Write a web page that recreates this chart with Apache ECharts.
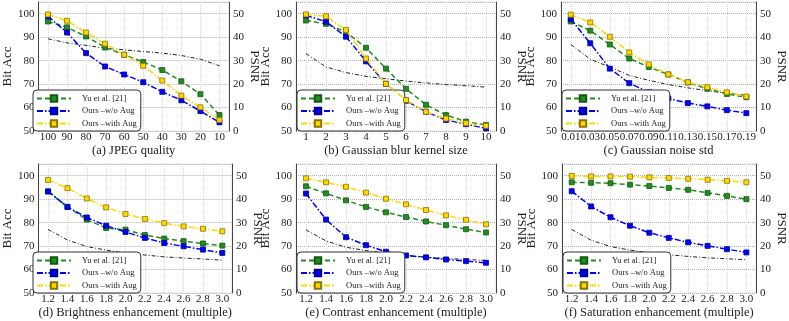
<!DOCTYPE html>
<html>
<head>
<meta charset="utf-8">
<script src="https://cdn.jsdelivr.net/npm/echarts@6/dist/echarts.min.js"></script>
<style>
  html, body { margin: 0; padding: 0; background: #fff; }
  #chart { width: 789px; height: 321px; }
</style>
</head>
<body>
<div id="chart"></div>
<script>
// x categories
const xJpeg = ['100', '90', '80', '70', '60', '50', '40', '30', '20', '10']
const xBlur = ['1', '2', '3', '4', '5', '6', '7', '8', '9', '10']
const xNoise = ['0.01', '0.03', '0.05', '0.07', '0.09', '0.11', '0.13', '0.15', '0.17', '0.19']
const xEnh = ['1.2', '1.4', '1.6', '1.8', '2.0', '2.2', '2.4', '2.6', '2.8', '3.0']

// (a) JPEG
const jpegYu = [96.7, 94.2, 90.3, 85.6, 82.5, 79.4, 76.0, 71.2, 65.7, 56.8]
const jpegNoAug = [98.9, 92.0, 83.2, 77.5, 74.1, 70.8, 66.7, 63.1, 58.5, 53.7]
const jpegAug = [99.7, 97.0, 92.0, 87.2, 82.5, 77.8, 71.5, 65.1, 60.1, 54.7]
const jpegPsnr = [39.3, 37.6, 36.5, 35.3, 34.6, 33.9, 33.2, 32.2, 30.6, 27.8]

// (b) Gaussian blur
const blurYu = [97.1, 95.7, 92.2, 85.5, 76.6, 68.0, 61.2, 56.8, 54.0, 52.6]
const blurNoAug = [99.3, 96.6, 90.2, 79.7, 70.1, 62.9, 58.2, 54.7, 52.9, 51.1]
const blurAug = [99.7, 98.9, 93.1, 80.9, 70.1, 63.2, 58.2, 55.3, 53.3, 52.2]
const blurPsnr = [33.0, 27.3, 24.9, 23.3, 22.3, 21.3, 20.5, 19.8, 19.3, 18.7]

// (c) Gaussian noise
const noiseYu = [96.7, 92.8, 86.9, 80.9, 77.3, 74.1, 70.7, 68.0, 65.8, 64.4]
const noiseNoAug = [97.7, 87.4, 76.6, 70.4, 66.5, 63.9, 61.9, 60.5, 58.9, 57.6]
const noiseAug = [99.6, 96.3, 90.2, 83.5, 78.4, 74.1, 70.8, 68.7, 66.5, 64.7]
const noisePsnr = [36.9, 30.6, 27.3, 23.7, 21.6, 19.8, 18.4, 17.2, 16.1, 15.2]

// (d) Brightness
const brightYu = [93.3, 86.7, 81.3, 77.7, 77.0, 74.7, 73.2, 72.1, 71.1, 70.2]
const brightNoAug = [93.3, 86.7, 82.2, 78.7, 76.0, 73.5, 71.3, 69.9, 68.5, 67.1]
const brightAug = [98.2, 94.7, 90.3, 86.5, 83.7, 81.6, 79.8, 78.4, 77.4, 76.3]
const brightPsnr = [27.1, 22.6, 19.8, 18.3, 17.0, 16.2, 15.4, 14.9, 14.5, 14.0]

// (e) Contrast
const contrastYu = [95.5, 92.5, 89.5, 86.7, 84.4, 82.4, 80.5, 78.9, 77.2, 75.8]
const contrastNoAug = [92.4, 81.3, 73.8, 70.4, 67.6, 66.0, 65.2, 64.3, 63.6, 62.9]
const contrastAug = [98.9, 97.2, 95.3, 92.8, 90.2, 87.8, 85.4, 83.1, 81.2, 79.3]
const contrastPsnr = [26.9, 22.2, 19.5, 18.1, 17.0, 16.0, 15.3, 14.7, 14.3, 13.9]

// (f) Saturation
const satYu = [97.2, 97.0, 96.8, 96.2, 95.6, 94.8, 94.0, 92.7, 91.4, 90.0]
const satNoAug = [93.4, 86.9, 82.3, 78.7, 75.7, 73.5, 71.6, 70.1, 68.7, 67.3]
const satAug = [99.9, 99.7, 99.7, 99.6, 99.3, 99.0, 98.7, 98.3, 97.8, 97.2]
const satPsnr = [27.1, 22.5, 19.8, 18.3, 17.1, 16.3, 15.6, 15.0, 14.6, 14.2]

const names = ['Yu et al. [21]', 'Ours –w/o Aug', 'Ours –with Aug']
const font = 'Liberation Serif'

// 各子图的位置
const panels = [
  { x: xJpeg, title: '(a) JPEG quality', d: [jpegYu, jpegNoAug, jpegAug, jpegPsnr], left: 32, top: 2, width: 197 },
  { x: xBlur, title: '(b) Gaussian blur kernel size', d: [blurYu, blurNoAug, blurAug, blurPsnr], left: 296, top: 2, width: 200 },
  { x: xNoise, title: '(c) Gaussian noise std', d: [noiseYu, noiseNoAug, noiseAug, noisePsnr], left: 561, top: 2, width: 198 },
  { x: xEnh, title: '(d) Brightness enhancement (multiple)', d: [brightYu, brightNoAug, brightAug, brightPsnr], left: 32, top: 164, width: 200 },
  { x: xEnh, title: '(e) Contrast enhancement (multiple)', d: [contrastYu, contrastNoAug, contrastAug, contrastPsnr], left: 296, top: 164, width: 200 },
  { x: xEnh, title: '(f) Saturation enhancement (multiple)', d: [satYu, satNoAug, satAug, satPsnr], left: 562, top: 164, width: 200 }
]
const plotH = 129

const styles = [
  { color: '#228b22', border: '#125c12', dash: [5, 3] },
  { color: '#0000ff', border: '#00008b', dash: [6, 2, 1.5, 2] },
  { color: '#ffd700', border: '#8a7300', dash: [6, 2, 1.5, 2] }
]

const grid = [], xAxis = [], yAxis = [], series = [], legend = []

panels.forEach((p, i) => {
  grid.push({
    left: p.left, top: p.top, width: p.width, height: plotH,
    show: true, borderColor: '#e2e2e2', borderWidth: 1, backgroundColor: 'transparent'
  })
  xAxis.push({
    type: 'category', gridIndex: i, data: p.x, boundaryGap: true,
    name: p.title, nameLocation: 'middle', nameGap: 9,
    nameTextStyle: { fontFamily: font, fontSize: 12.5, color: '#222' },
    axisLine: { show: false },
    axisTick: { show: false, alignWithLabel: true },
    axisLabel: { interval: 0, fontFamily: font, fontSize: 11, color: '#222', margin: 1, hideOverlap: false },
    splitLine: { show: true, alignWithLabel: true, interval: 0, lineStyle: { color: '#d8d8d8', type: 'dotted', width: 1 } }
  })
  yAxis.push({
    type: 'value', gridIndex: i, position: 'left', min: 50, max: 105, interval: 10,
    name: 'Bit Acc', nameLocation: 'middle', nameGap: 18,
    nameTextStyle: { fontFamily: font, fontSize: 13, color: '#222' },
    axisLine: { show: true, lineStyle: { color: '#444', width: 1 } },
    axisTick: { show: false },
    axisLabel: { showMaxLabel: false, fontFamily: font, fontSize: 11, color: '#222', margin: 4 },
    splitLine: { show: true, lineStyle: { color: '#b0b0b0', type: 'dotted', width: 1 } }
  })
  yAxis.push({
    type: 'value', gridIndex: i, position: 'right', min: 0, max: 55, interval: 10,
    name: 'PSNR', nameLocation: 'middle', nameGap: 17, nameRotate: -90,
    nameTextStyle: { fontFamily: font, fontSize: 13, color: '#222' },
    axisLine: { show: true, lineStyle: { color: '#444', width: 1 } },
    axisTick: { show: false },
    axisLabel: { showMaxLabel: false, fontFamily: font, fontSize: 11, color: '#222', margin: 4 },
    splitLine: { show: false }
  })
  // PSNR 虚线
  series.push({
    type: 'line', name: 'PSNR', xAxisIndex: i, yAxisIndex: 2 * i + 1, data: p.d[3],
    symbol: 'none', z: 1,
    lineStyle: { color: '#222', width: 1, type: [4, 2, 1, 2] }
  })
  styles.forEach((s, k) => {
    series.push({
      type: 'line', name: names[k], xAxisIndex: i, yAxisIndex: 2 * i, data: p.d[k],
      symbol: 'rect', symbolSize: 5, z: 2 + k,
      lineStyle: { color: s.color, width: 1.5, type: s.dash },
      itemStyle: { color: s.color, borderColor: s.border, borderWidth: 0.8 }
    })
  })
  legend.push({
    data: names, orient: 'vertical',
    left: p.left + 1, top: p.top + 88,
    backgroundColor: '#fff', borderColor: '#333', borderWidth: 1, borderRadius: 4,
    padding: [4, 4, 3, 3], itemWidth: 34, itemHeight: 8, itemGap: 3.5,
    selectedMode: false,
    textStyle: { fontFamily: font, fontSize: 8.5, color: '#222', padding: [0, 0, 0, 6] }
  })
})

const chart = echarts.init(document.getElementById('chart'), null, { renderer: 'canvas' })
chart.setOption({
  animation: false,
  backgroundColor: '#fff',
  grid, xAxis, yAxis, series, legend
})
</script>
</body>
</html>
